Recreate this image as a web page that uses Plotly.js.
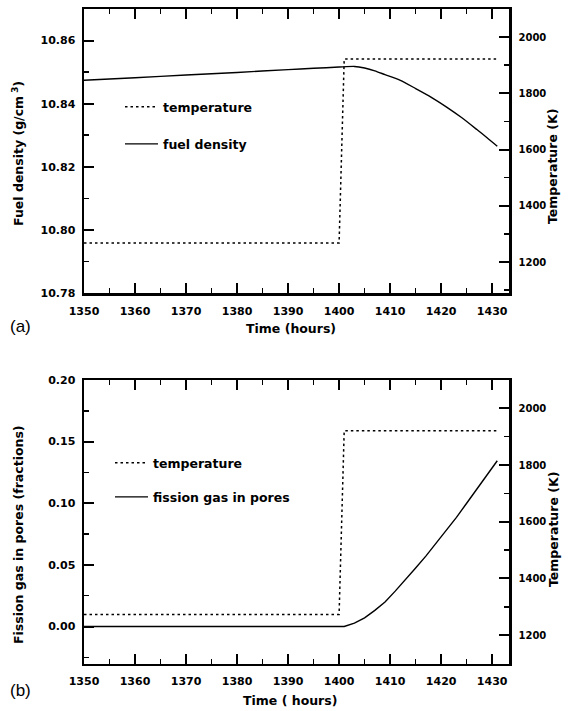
<!DOCTYPE html>
<html>
<head>
<meta charset="utf-8">
<script src="https://cdn.plot.ly/plotly-3.0.1.min.js"></script>
<style>html,body{margin:0;padding:0;background:#fff;}#chart{width:568px;height:711px;}</style>
</head>
<body>
<div id="chart"></div>
<script>
// ---- Panel (a) data ----
const tempTimeA = [1350, 1400, 1401, 1431];
const tempA = [1268, 1268, 1922, 1922];
const densTime = [1350, 1360, 1370, 1380, 1390, 1395, 1400, 1403, 1405, 1407, 1409, 1412, 1415, 1418, 1421, 1424, 1427, 1429, 1431];
const density = [10.8474, 10.8482, 10.8491, 10.8499, 10.8508, 10.8512, 10.8516, 10.8518, 10.8513, 10.8504, 10.8492, 10.8474, 10.8448, 10.8421, 10.8390, 10.8356, 10.8318, 10.8292, 10.8265];

// ---- Panel (b) data ----
const tempTimeB = [1350, 1400, 1401, 1431];
const tempB = [1273, 1273, 1921, 1921];
const gasTime = [1350, 1401, 1403, 1405, 1407, 1409, 1411, 1413, 1415, 1417, 1419, 1421, 1423, 1425, 1427, 1429, 1431];
const gasFrac = [0, 0, 0.0027, 0.0070, 0.0131, 0.0199, 0.0287, 0.0378, 0.0475, 0.0571, 0.0674, 0.0779, 0.0886, 0.1000, 0.1117, 0.1235, 0.1345];

// ---- labels ----
const xTitleA = 'Time (hours)';
const xTitleB = 'Time ( hours)';
const yTitleA = 'Fuel density (g/cm<sup> 3</sup>)';
const yTitleB = 'Fission gas in pores (fractions)';
const y2Title = 'Temperature (K)';
const legTemp = 'temperature';
const legDens = 'fuel density';
const legGas = 'fission gas in pores';

const W = 568, H = 711;
const px = v => v / W;
const py = v => 1 - v / H;
const FAM = 'DejaVu Sans';
const bold = (s) => ({family: FAM, size: s, color: '#000', weight: 'bold'});

const dotLine = {color: '#000', width: 1.5, dash: '2.5px,3px'};
const smoothLine = {color: '#000', width: 1.4, shape: 'spline', smoothing: 0.6};
const solidLine = {color: '#000', width: 1.4};

const traces = [
  {x: tempTimeA, y: tempA, xaxis: 'x', yaxis: 'y2', mode: 'lines', line: dotLine, name: legTemp, legend: 'legend', legendgroup: 'a1'},
  {x: densTime, y: density, xaxis: 'x', yaxis: 'y', mode: 'lines', line: smoothLine, name: legDens, legend: 'legend', legendgroup: 'a2'},
  {x: tempTimeB, y: tempB, xaxis: 'x2', yaxis: 'y4', mode: 'lines', line: dotLine, name: legTemp, legend: 'legend2', legendgroup: 'b1'},
  {x: gasTime, y: gasFrac, xaxis: 'x2', yaxis: 'y3', mode: 'lines', line: solidLine, name: legGas, legend: 'legend2', legendgroup: 'b2'}
];

const dom = [px(84), px(509)];
const domA = [py(293), py(9)];
const domB = [py(663.5), py(380)];

function xax(anchor) {
  return {
    domain: dom, anchor: anchor, range: [1350, 1433.3],
    tick0: 1350, dtick: 10, ticks: 'inside', ticklen: 10, tickwidth: 2, tickcolor: '#000',
    minor: {tick0: 1350, dtick: 5, ticks: 'inside', ticklen: 5, tickwidth: 1.5, tickcolor: '#000'},
    showline: true, linewidth: 2.5, linecolor: '#000', mirror: 'ticks',
    showgrid: false, zeroline: false, tickfont: bold(11), ticklabelstandoff: 6
  };
}
function yax(domain, anchor, range, tick0, dtick, mdtick, fmt) {
  return {
    domain: domain, anchor: anchor, range: range, tick0: tick0, dtick: dtick, tickformat: fmt,
    ticks: 'inside', ticklen: 10, tickwidth: 2, tickcolor: '#000',
    minor: {tick0: tick0, dtick: mdtick, ticks: 'inside', ticklen: 5, tickwidth: 1.5, tickcolor: '#000'},
    showline: true, linewidth: 2.5, linecolor: '#000', showgrid: false, zeroline: false,
    tickfont: bold(11), ticklabelstandoff: 4
  };
}
function y2ax(overlay, anchor, range) {
  return {
    overlaying: overlay, side: 'right', anchor: anchor, range: range, tick0: 1200, dtick: 200,
    ticks: 'inside', ticklen: 10, tickwidth: 2, tickcolor: '#000',
    minor: {tick0: 1200, dtick: 100, ticks: 'inside', ticklen: 5, tickwidth: 1.5, tickcolor: '#000'},
    showline: true, linewidth: 2.5, linecolor: '#000', showgrid: false, zeroline: false,
    tickfont: bold(10), ticklabelstandoff: 5
  };
}

function ann(text, x, y, size, angle, fnt) {
  return {text: text, xref: 'paper', yref: 'paper', x: px(x), y: py(y), xanchor: 'center', yanchor: 'middle',
    showarrow: false, textangle: angle || 0, font: fnt || bold(size)};
}

const layout = {
  width: W, height: H, margin: {l: 0, r: 0, t: 0, b: 0},
  paper_bgcolor: '#fff', plot_bgcolor: '#fff',
  xaxis: xax('y'),
  yaxis: yax(domA, 'x', [10.78, 10.87], 10.78, 0.02, 0.01, '.2f'),
  yaxis2: y2ax('y', 'x', [1090, 2100]),
  xaxis2: xax('y3'),
  yaxis3: yax(domB, 'x2', [-0.03, 0.20], 0, 0.05, 0.025, '.2f'),
  yaxis4: y2ax('y3', 'x2', [1100, 2100]),
  legend: {x: px(120), y: py(92), xanchor: 'left', yanchor: 'top', bgcolor: 'rgba(0,0,0,0)',
    font: bold(12.5), traceorder: 'grouped', tracegroupgap: 18, itemwidth: 33},
  legend2: {x: px(110), y: py(448), xanchor: 'left', yanchor: 'top', bgcolor: 'rgba(0,0,0,0)',
    font: bold(12.5), traceorder: 'grouped', tracegroupgap: 15, itemwidth: 33},
  annotations: [
    ann(xTitleA, 291, 328, 12.5),
    ann(xTitleB, 290, 700, 12.5),
    ann(yTitleA, 18, 154, 12.5, -90),
    ann(yTitleB, 18, 535, 12.5, -90),
    ann(y2Title, 553, 167, 12.5, -90),
    ann(y2Title, 553, 530, 12.5, -90),
    ann('(a)', 20, 327, 17, 0, {family: 'Liberation Sans', size: 17, color: '#000'}),
    ann('(b)', 20, 690, 17, 0, {family: 'Liberation Sans', size: 17, color: '#000'})
  ],
  showlegend: true
};

Plotly.newPlot('chart', traces, layout, {displayModeBar: false, staticPlot: true});
</script>
</body>
</html>
